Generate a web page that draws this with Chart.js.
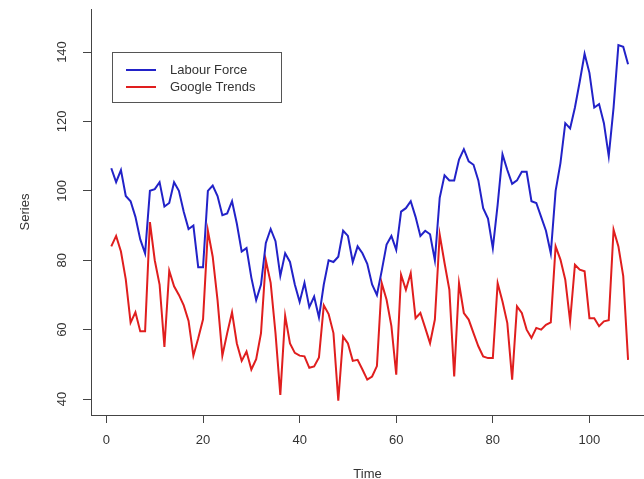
<!DOCTYPE html>
<html lang="en">

<head>
    <meta charset="UTF-8">
    <title>Labour Force vs Google Trends</title>
    <script src="https://cdn.jsdelivr.net/npm/chart.js"></script>
    <style>
        body {
            margin: 0;
            background: #fff;
        }
    </style>
</head>

<body>
    <canvas id="seriesChart" width="644" height="479"></canvas>
    <script>
        // Monthly index values, t = 1..108
        const labourForce = [
            106.5, 102.5, 106, 98.5, 97, 92.5, 86, 82, 100, 100.5,
            102.5, 95.5, 96.5, 102.5, 100, 94, 89, 90, 78, 78,
            100, 101.5, 98.5, 93, 93.5, 97, 90.5, 82.5, 83.5, 75,
            68.5, 73, 85, 89, 85.5, 75.5, 82, 79.5, 73, 68,
            73.5, 66.5, 69.5, 63.5, 73, 80, 79.5, 81, 88.5, 87,
            79.5, 84, 82, 79, 73, 70, 77, 84.5, 87, 83,
            94, 95, 97, 92.5, 87, 88.5, 87.5, 80, 98, 104.5,
            103, 103, 109, 112, 108.5, 107.5, 103, 95, 92, 83.5,
            96, 110.5, 106, 102, 103, 105.5, 105.5, 97, 96.5, 92.5,
            88.5, 82, 100, 108, 119.5, 118, 124, 131.5, 139.5, 134,
            124, 125, 119.5, 110, 124, 142, 141.5, 136.5
        ];
        const googleTrends = [
            84, 87, 82.5, 74.5, 62, 65, 59.5, 59.5, 91, 80,
            73, 55, 77, 72.5, 70, 67, 62.5, 52.5, 57.5, 63,
            88.5, 81, 68.5, 52.5, 59, 65, 56, 51, 53.7, 48.5,
            51.5, 59, 80, 73.5, 59, 41.2, 64, 56, 53.3, 52.5,
            52.3, 49, 49.4, 52, 67, 64.5, 59, 39.5, 58, 56,
            51, 51.3, 48.5, 45.6, 46.5, 49.5, 73.4, 68.6, 61, 47,
            75.8, 71.5, 76.3, 63.3, 64.8, 60.5, 56.1, 62.9, 87.4, 79.2,
            71.5, 46.5, 73.4, 64.8, 62.9, 59, 55.2, 52.3, 51.8, 51.8,
            73.4, 68.1, 61.9, 45.6, 66.7, 64.8, 60, 57.6, 60.5, 60,
            61.4, 62.1, 84, 80.2, 74.4, 62.4, 78.7, 77.3, 76.8, 63.3,
            63.3, 61, 62.4, 62.7, 88.8, 84, 75.4, 51.3
        ];
        const timeTicks = [0, 20, 40, 60, 80, 100];
        const seriesTicks = [40, 60, 80, 100, 120, 140];

        const toPoints = arr => arr.map((v, i) => ({ x: i + 1, y: v }));

        Chart.defaults.font.family = "'Liberation Sans', Arial, sans-serif";
        Chart.defaults.font.size = 13;
        Chart.defaults.color = '#333';

        // legend box drawn inside the plot, R style
        const boxLegend = {
            id: 'boxLegend',
            afterDraw(chart) {
                const ctx = chart.ctx;
                ctx.save();
                ctx.strokeStyle = '#555';
                ctx.lineWidth = 1;
                ctx.strokeRect(112.5, 52.5, 169, 50);
                ctx.font = "13px 'Liberation Sans', Arial, sans-serif";
                ctx.textBaseline = 'middle';
                chart.data.datasets.forEach((ds, i) => {
                    const y = 70 + i * 17;
                    ctx.strokeStyle = ds.borderColor;
                    ctx.lineWidth = 2;
                    ctx.beginPath();
                    ctx.moveTo(126, y);
                    ctx.lineTo(156, y);
                    ctx.stroke();
                    ctx.fillStyle = '#333';
                    ctx.fillText(ds.label, 170, y);
                });
                ctx.restore();
            }
        };

        const ctx = document.getElementById('seriesChart').getContext('2d');
        new Chart(ctx, {
            type: 'line',
            data: {
                datasets: [
                    {
                        label: 'Labour Force',
                        data: toPoints(labourForce),
                        borderColor: '#2222c8',
                        borderWidth: 2,
                        pointRadius: 0,
                        tension: 0
                    },
                    {
                        label: 'Google Trends',
                        data: toPoints(googleTrends),
                        borderColor: '#e01e1e',
                        borderWidth: 2,
                        pointRadius: 0,
                        tension: 0
                    }
                ]
            },
            options: {
                responsive: false,
                animation: false,
                layout: { padding: { top: 9, right: 0, left: 0, bottom: 0 } },
                plugins: {
                    legend: { display: false },
                    tooltip: { enabled: false }
                },
                scales: {
                    x: {
                        type: 'linear',
                        min: -3.2,
                        max: 111.3,
                        afterBuildTicks: s => { s.ticks = timeTicks.map(v => ({ value: v })); },
                        afterFit: s => { s.height = 64; s.paddingLeft = 0; s.paddingRight = 0; },
                        grid: { drawOnChartArea: false, color: '#444', tickLength: 8 },
                        border: { color: '#444' },
                        ticks: { padding: 10, maxRotation: 0 },
                        title: { display: true, text: 'Time', padding: { top: 0, bottom: -3 } }
                    },
                    y: {
                        min: 35.4,
                        max: 152.4,
                        afterBuildTicks: s => { s.ticks = seriesTicks.map(v => ({ value: v })); },
                        afterFit: s => { s.width = 91; s.paddingTop = 0; s.paddingBottom = 0; },
                        grid: { drawOnChartArea: false, color: '#444', tickLength: 8 },
                        border: { color: '#444' },
                        ticks: { padding: 10, minRotation: 90, maxRotation: 90, crossAlign: 'center' },
                        title: { display: true, text: 'Series', padding: { top: 18, bottom: 0 } }
                    }
                }
            },
            plugins: [boxLegend]
        });
    </script>
</body>

</html>
